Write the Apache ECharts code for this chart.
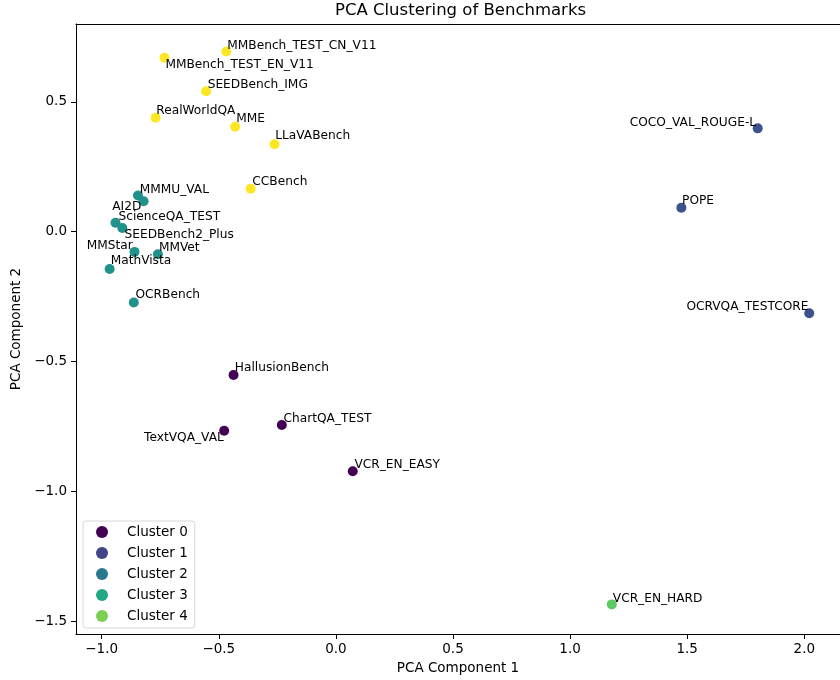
<!DOCTYPE html>
<html>
<head>
<meta charset="utf-8">
<script src="https://cdn.jsdelivr.net/npm/echarts@6/dist/echarts.min.js"></script>
<style>
  html, body { margin: 0; padding: 0; background: #fff; }
  #chart { width: 840px; height: 680px; }
</style>
</head>
<body>
<div id="chart"></div>
<script>
// benchmark names, PCA coordinates and cluster ids
var benchmarks = [
  'MMBench_TEST_EN_V11', 'MMBench_TEST_CN_V11', 'SEEDBench_IMG', 'RealWorldQA', 'MME', 'LLaVABench', 'CCBench',
  'MMMU_VAL', 'AI2D', 'ScienceQA_TEST', 'SEEDBench2_Plus', 'MMStar', 'MMVet', 'MathVista', 'OCRBench',
  'COCO_VAL_ROUGE-L', 'POPE', 'OCRVQA_TESTCORE',
  'HallusionBench', 'TextVQA_VAL', 'ChartQA_TEST', 'VCR_EN_EASY',
  'VCR_EN_HARD'
];
var pc1 = [
  -0.732, -0.468, -0.554, -0.770, -0.430, -0.262, -0.364,
  -0.845, -0.821, -0.941, -0.912, -0.860, -0.760, -0.966, -0.863,
  1.801, 1.475, 2.021,
  -0.437, -0.477, -0.231, 0.072,
  1.178
];
var pc2 = [
  0.670, 0.694, 0.541, 0.439, 0.404, 0.337, 0.165,
  0.139, 0.117, 0.034, 0.014, -0.078, -0.087, -0.144, -0.273,
  0.398, 0.092, -0.314,
  -0.552, -0.767, -0.745, -0.923,
  -1.436
];
var clusterIds = [
  4, 4, 4, 4, 4, 4, 4,
  2, 2, 2, 2, 2, 2, 2, 2,
  1, 1, 1,
  0, 0, 0, 0,
  3
];
var clusterNames = ['Cluster 0', 'Cluster 1', 'Cluster 2', 'Cluster 3', 'Cluster 4'];
var xTicks = [-1.0, -0.5, 0.0, 0.5, 1.0, 1.5, 2.0];
var yTicks = [-1.5, -1.0, -0.5, 0.0, 0.5];

// colours: points use viridis over 0..4, legend icons use viridis(i/5)
var pointColors = ['#440154', '#3b528b', '#21918c', '#5ec962', '#fde725'];
var legendColors = ['#440154', '#414487', '#2a788e', '#22a884', '#7ad151'];

// label nudges in px: [dx, dy of text middle, align]
var labelNudge = {
  'MMBench_TEST_EN_V11': [1, 7, 'left'],
  'MMBench_TEST_CN_V11': [1, -6, 'left'],
  'SEEDBench_IMG': [1.5, -6.5, 'left'],
  'RealWorldQA': [0.7, -7, 'left'],
  'MME': [1, -7.5, 'left'],
  'LLaVABench': [0.7, -8, 'left'],
  'CCBench': [1.7, -7, 'left'],
  'MMMU_VAL': [1.7, -6, 'left'],
  'AI2D': [-2.3, 5.4, 'right'],
  'ScienceQA_TEST': [3, -5.7, 'left'],
  'SEEDBench2_Plus': [2.3, 6.7, 'left'],
  'MMStar': [-1.7, -6.3, 'right'],
  'MMVet': [1, -6, 'left'],
  'MathVista': [1, -8, 'left'],
  'OCRBench': [1.7, -7.3, 'left'],
  'COCO_VAL_ROUGE-L': [-1.6, -6, 'right'],
  'POPE': [0.7, -7.3, 'left'],
  'OCRVQA_TESTCORE': [-0.7, -6, 'right'],
  'HallusionBench': [1.3, -7.3, 'left'],
  'TextVQA_VAL': [-0.4, 6.7, 'right'],
  'ChartQA_TEST': [1.7, -6.7, 'left'],
  'VCR_EN_EASY': [1.7, -6.3, 'left'],
  'VCR_EN_HARD': [1, -5.3, 'left']
};

var symSize = 10;

function fmtTick(v) {
  return (v < 0 ? '\u2212' : '') + Math.abs(v).toFixed(1);
}

function buildSeries() {
  var list = [];
  for (var c = 0; c < clusterNames.length; c++) {
    var pts = [];
    for (var i = 0; i < benchmarks.length; i++) {
      if (clusterIds[i] != c) continue;
      var n = labelNudge[benchmarks[i]] || [1, -7, 'left'];
      pts.push({
        name: benchmarks[i],
        value: [pc1[i], pc2[i]],
        label: {
          position: [symSize / 2 + n[0], symSize / 2 + n[1]],
          align: n[2]
        }
      });
    }
    list.push({
      name: clusterNames[c],
      type: 'scatter',
      symbolSize: symSize,
      itemStyle: { color: pointColors[c], opacity: 1 },
      label: {
        show: true,
        formatter: '{b}',
        verticalAlign: 'middle',
        fontFamily: 'DejaVu Sans',
        fontSize: 12.2,
        color: '#000'
      },
      labelLayout: { hideOverlap: false },
      emphasis: { disabled: true },
      data: pts
    });
  }
  return list;
}

var myChart = echarts.init(document.getElementById('chart'), null, { renderer: 'canvas' });

var axisFont = { fontFamily: 'DejaVu Sans', fontSize: 13.5, color: '#000' };

var option = {
  animation: false,
  backgroundColor: '#fff',
  title: {
    text: 'PCA Clustering of Benchmarks',
    left: 335,
    top: 2.5,
    padding: 0,
    textStyle: { fontFamily: 'DejaVu Sans', fontSize: 16.5, fontWeight: 'normal', color: '#000' }
  },
  legend: {
    orient: 'vertical',
    left: 83,
    top: 521,
    padding: [4, 7, 5, 13],
    itemGap: 7,
    itemWidth: 12,
    itemHeight: 12,
    icon: 'circle',
    backgroundColor: 'rgba(255,255,255,0.8)',
    borderColor: '#d6d6d6',
    borderWidth: 1,
    borderRadius: 3,
    textStyle: { fontFamily: 'DejaVu Sans', fontSize: 13.5, color: '#000', lineHeight: 14, padding: [0, 0, 0, 14] },
    data: clusterNames.map(function (nm, i) {
      return { name: nm, itemStyle: { color: legendColors[i] } };
    })
  },
  grid: {
    left: 76,
    top: 24,
    right: 0,
    bottom: 43
  },
  xAxis: [{
    type: 'value',
    min: -1.1097,
    max: 2.1524,
    name: 'PCA Component 1',
    nameLocation: 'middle',
    nameGap: 27,
    nameTextStyle: axisFont,
    axisLine: { show: true, onZero: false, lineStyle: { color: '#000', width: 1 } },
    axisTick: { show: true, length: 5, lineStyle: { color: '#000' }, customValues: xTicks },
    axisLabel: { margin: 8, fontFamily: 'DejaVu Sans', fontSize: 13.5, color: '#000', customValues: xTicks, formatter: fmtTick },
    splitLine: { show: false }
  }, {
    // top spine only
    type: 'value',
    position: 'top',
    min: -1.1097,
    max: 2.1524,
    axisLine: { show: true, onZero: false, lineStyle: { color: '#000', width: 1 } },
    axisTick: { show: false },
    axisLabel: { show: false },
    splitLine: { show: false }
  }],
  yAxis: {
    type: 'value',
    min: -1.550,
    max: 0.800,
    name: 'PCA Component 2',
    nameLocation: 'middle',
    nameGap: 52,
    nameTextStyle: axisFont,
    axisLine: { show: true, onZero: false, lineStyle: { color: '#000', width: 1 } },
    axisTick: { show: true, length: 5, lineStyle: { color: '#000' }, customValues: yTicks },
    axisLabel: { margin: 9, fontFamily: 'DejaVu Sans', fontSize: 13.5, color: '#000', customValues: yTicks, formatter: fmtTick },
    splitLine: { show: false }
  },
  series: buildSeries()
};

myChart.setOption(option);
</script>
</body>
</html>
